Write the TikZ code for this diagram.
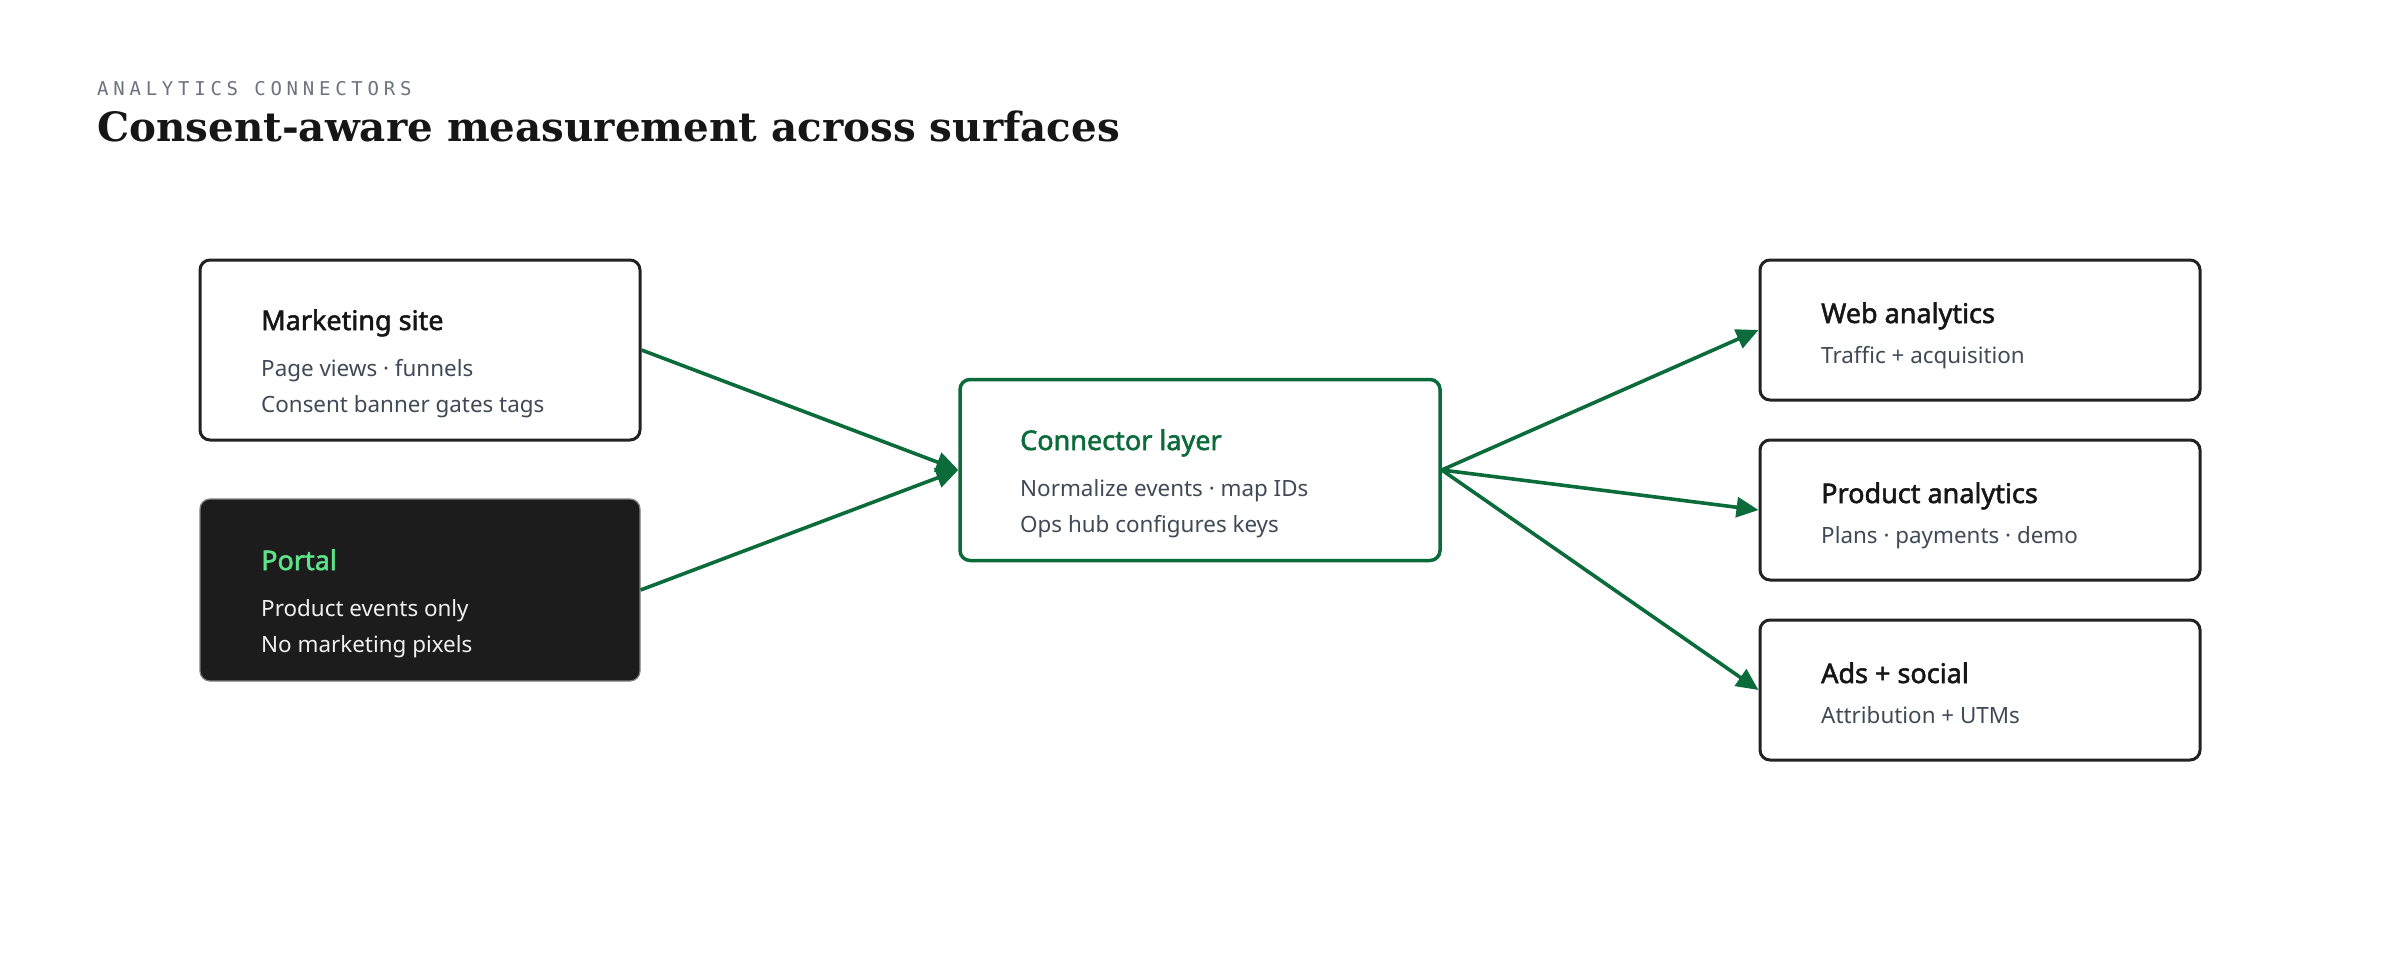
\documentclass[tikz,border=0pt]{standalone}
\usepackage{fontspec}
\usepackage{tikz}
\usetikzlibrary{arrows.meta}
\usetikzlibrary{positioning}
\setmainfont{Noto Sans}
\newfontfamily\titlefont{Noto Sans}[FakeBold=2]
\newfontfamily\headfont{DejaVu Serif}
\newfontfamily\eyefont{DejaVu Sans Mono}[LetterSpace=25]
\definecolor{flowgreen}{HTML}{0B6B3A}
\definecolor{portalgreen}{HTML}{5EE38A}
\definecolor{boxline}{HTML}{222222}
\definecolor{darkfill}{HTML}{1C1C1C}
\definecolor{subgray}{HTML}{404A57}
\definecolor{eyegray}{HTML}{6B7280}
\definecolor{inktext}{HTML}{161616}

\begin{document}
\begin{tikzpicture}[x=1pt,y=-1pt]
			\tikzset{box/.style = {shape=rectangle,draw=boxline,line width=3pt,
					rounded corners=10pt,fill=white,inner sep=0pt,
					minimum width=440pt,minimum height=140pt}}
			\tikzset{hub/.style = {box,draw=flowgreen,line width=3.5pt,
					minimum width=480pt,minimum height=181pt}}
			\tikzset{dark/.style = {box,draw=gray,line width=1.2pt,fill=darkfill}}
			\tikzset{title/.style = {anchor=base west,inner sep=0pt,text=inktext,
					font=\titlefont\fontsize{27}{32}\selectfont}}
			\tikzset{sub/.style = {anchor=base west,inner sep=0pt,text=subgray,
					font=\fontsize{22.4}{27}\selectfont}}
			\tikzset{edge/.style = {-{Triangle[length=22pt,width=20pt]},
					line width=3.6pt,draw=flowgreen}}
			\useasboundingbox (0,0) rectangle (2400,960);
			
			% heading
			\node[anchor=base west,inner sep=0pt,text=eyegray,
				font=\eyefont\fontsize{19}{22}\selectfont] (eyebrow) at (97,96)
				{ANALYTICS CONNECTORS};
			\node[anchor=base west,inner sep=0pt,text=inktext,
				font=\headfont\fontsize{40.4}{46}\selectfont\bfseries] (headline) at (97,142)
				{Consent-aware measurement across surfaces};
			
			% vertices
			\node[box,minimum height=180pt] (ms) at (420,350) {};
			\node[dark,minimum height=182pt] (po) at (420,590) {};
			\node[hub] (cl) at (1200,470) {};
			\node[box] (wa) at (1980,330) {};
			\node[box] (pa) at (1980,510) {};
			\node[box] (as) at (1980,690) {};
			
			% labels
			\node[title] (ms-t) at (261,330) {Marketing site};
			\node[sub] (ms-a) at (261,376) {Page views · funnels};
			\node[sub] (ms-b) at (261,412) {Consent banner gates tags};
			\node[title,text=portalgreen] (po-t) at (261,570) {Portal};
			\node[sub,text=white!94!black] (po-a) at (261,616) {Product events only};
			\node[sub,text=white!94!black] (po-b) at (261,652) {No marketing pixels};
			\node[title,text=flowgreen] (cl-t) at (1020,450) {Connector layer};
			\node[sub] (cl-a) at (1020,496) {Normalize events · map IDs};
			\node[sub] (cl-b) at (1020,532) {Ops hub configures keys};
			\node[title] (wa-t) at (1821,323) {Web analytics};
			\node[sub] (wa-a) at (1821,363) {Traffic + acquisition};
			\node[title] (pa-t) at (1821,503) {Product analytics};
			\node[sub] (pa-a) at (1821,543) {Plans · payments · demo};
			\node[title] (as-t) at (1821,683) {Ads + social};
			\node[sub] (as-a) at (1821,723) {Attribution + UTMs};
			
			%edges
			\draw[edge] (ms.east) to (cl.west);
			\draw[edge] (po.east) to (cl.west);
			\draw[edge] (cl.east) to (wa.west);
			\draw[edge] (cl.east) to (pa.west);
			\draw[edge] (cl.east) to (as.west);
			
\end{tikzpicture}
\end{document}
